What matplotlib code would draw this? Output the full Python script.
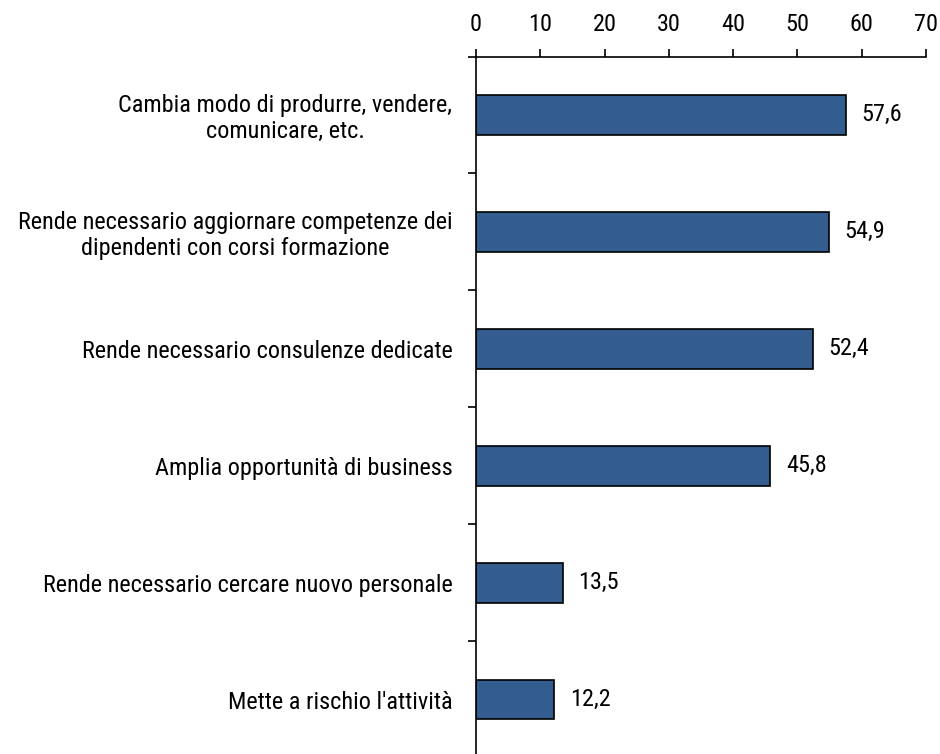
import numpy as np
import matplotlib.pyplot as plt

# dati
categorie = [
    "Cambia modo di produrre, vendere,\ncomunicare, etc.",
    "Rende necessario aggiornare competenze dei\ndipendenti con corsi formazione",
    "Rende necessario consulenze dedicate",
    "Amplia opportunità di business",
    "Rende necessario cercare nuovo personale",
    "Mette a rischio l'attività",
]
valori = [57.6, 54.9, 52.4, 45.8, 13.5, 12.2]
etichette = ["57,6", "54,9", "52,4", "45,8", "13,5", "12,2"]
xticks = [0, 10, 20, 30, 40, 50, 60, 70]

plt.rcParams['font.family'] = ['Roboto Condensed', 'Archivo Narrow', 'Liberation Sans', 'DejaVu Sans']

fig = plt.figure(figsize=(9.4, 7.54), dpi=100)
ax = fig.add_axes([476 / 940, 1 - 758 / 754, 450 / 940, 701.5 / 754])

y = np.arange(len(categorie))
ax.barh(y, valori, height=0.34, color='#335d8f', edgecolor='black', linewidth=1.2)

for yi, v, lab in zip(y, valori, etichette):
    ax.text(v + 2.4, yi, lab, va='center', ha='left', fontsize=17.5)

ax.set_ylim(len(categorie) - 0.5, -0.5)
ax.set_xlim(0, 70)

ax.xaxis.tick_top()
ax.set_xticks(xticks)
ax.tick_params(axis='x', direction='out', length=6, width=1.2, labelsize=17.5, pad=9)

ax.set_yticks(y)
ax.set_yticklabels(categorie, fontsize=17.5, multialignment='center', linespacing=1.15)
ax.tick_params(axis='y', which='major', length=0, pad=17)
ax.set_yticks(np.arange(-0.5, len(categorie)), minor=True)
ax.tick_params(axis='y', which='minor', length=6, width=1.2, direction='out')

for s in ['right', 'bottom']:
    ax.spines[s].set_visible(False)
for s in ['top', 'left']:
    ax.spines[s].set_linewidth(1.2)

fig.savefig('out.png', dpi=100)
